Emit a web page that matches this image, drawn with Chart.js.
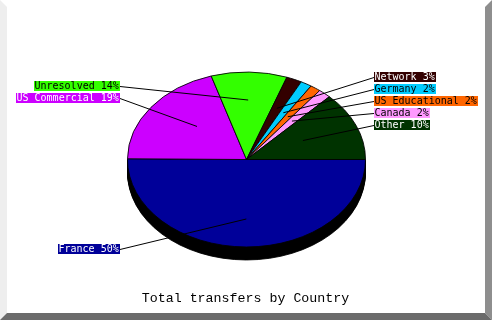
<!DOCTYPE html>
<html><head><meta charset="utf-8">
<script src="https://cdn.jsdelivr.net/npm/chart.js@4"></script>
<style>html,body{margin:0;padding:0;background:#fff;overflow:hidden}canvas{display:block}</style>
</head><body>
<canvas id="c" width="492" height="320"></canvas>
<script>
// ---- data ----
const categories = ['France', 'US Commercial', 'Unresolved', 'Network', 'Germany', 'US Educational', 'Canada', 'Other'];
const shares = [50, 18.5, 13.6, 2.5, 1.7, 1.5, 1.7, 10.3];
const titleText = 'Total transfers by Country';

// ---- styles / layout ----
const sliceColors = ['#000099', '#cc00ff', '#33ff00', '#330000', '#00ccff', '#ff6600', '#ff99ff', '#003300'];
const labelTextColors = ['#fff', '#fff', '#000', '#fff', '#000', '#000', '#000', '#fff'];
const labelSide = ['L', 'L', 'L', 'R', 'R', 'R', 'R', 'R'];
const labelY = [249, 98, 86, 77, 89, 101, 113, 125];
const TILT = 0.735, DEPTH = 13;

// screen-angle shares -> parametric arc sizes for the tilted (squashed) pie
function projectedSizes(vals) {
  const total = vals.reduce((a, b) => a + b, 0);
  let cum = 0; const th = [0];
  vals.forEach((v, i) => {
    cum += v;
    const phi = cum / total * 2 * Math.PI;
    let t = Math.atan2(Math.sin(phi), TILT * Math.cos(phi));
    if (t < 1e-9) t += 2 * Math.PI;
    if (i === vals.length - 1) t = 2 * Math.PI;
    th.push(t);
  });
  return vals.map((v, i) => th[i + 1] - th[i]);
}

const pie3d = {
  id: 'pie3d',
  beforeDraw(chart) {
    const ctx = chart.ctx;
    ctx.save();
    ctx.fillStyle = '#fff'; ctx.fillRect(0, 0, 492, 320);
    ctx.fillStyle = '#eeeeee';
    ctx.beginPath(); ctx.moveTo(0, 0); ctx.lineTo(7, 7); ctx.lineTo(7, 313); ctx.lineTo(0, 320); ctx.closePath(); ctx.fill();
    ctx.fillStyle = '#8e8e8e';
    ctx.beginPath(); ctx.moveTo(485, 7); ctx.lineTo(492, 0); ctx.lineTo(492, 320); ctx.lineTo(485, 313); ctx.closePath(); ctx.fill();
    ctx.fillStyle = '#6b6b6b';
    ctx.beginPath(); ctx.moveTo(0, 320); ctx.lineTo(7, 313); ctx.lineTo(485, 313); ctx.lineTo(492, 320); ctx.closePath(); ctx.fill();
    ctx.restore();
  },
  beforeDatasetsDraw(chart) {
    const ctx = chart.ctx;
    const a0 = chart.getDatasetMeta(0).data[0];
    const cx = a0.x, cy = a0.y;
    ctx.save();
    ctx.translate(cx, cy); ctx.scale(1, TILT); ctx.translate(-cx, -cy);
    const orig = a0.options;
    a0.options = Object.assign({}, orig, { backgroundColor: '#000', borderColor: '#000' });
    for (let d = DEPTH; d >= 1; d--) {
      ctx.save(); ctx.translate(0, d / TILT); a0.draw(ctx); ctx.restore();
    }
    a0.options = orig;
  },
  afterDatasetsDraw(chart) {
    const ctx = chart.ctx;
    ctx.restore();
    const a0 = chart.getDatasetMeta(0).data[0];
    const cx = a0.x, cy = a0.y, R = a0.outerRadius;
    const total = shares.reduce((a, b) => a + b, 0);
    ctx.save();
    ctx.font = "10px 'DejaVu Sans Mono'";
    ctx.textBaseline = 'middle';
    ctx.textAlign = 'left';
    ctx.lineWidth = 1;
    let cum = 0;
    shares.forEach((v, i) => {
      const mid = (cum + v / 2) / total * 2 * Math.PI;
      cum += v;
      const px = cx + 0.5 * R * Math.cos(mid), py = cy + 0.5 * R * Math.sin(mid);
      const text = categories[i] + ' ' + Math.round(v) + '%';
      const w = Math.ceil(ctx.measureText(text).width) + 1;
      const y = labelY[i];
      let bx, ex;
      if (labelSide[i] === 'L') { ex = Math.round(cx - R - 8); bx = ex - w; }
      else { bx = Math.round(cx + R + 8); ex = bx; }
      ctx.strokeStyle = '#000';
      ctx.beginPath(); ctx.moveTo(px, py); ctx.lineTo(ex, y + 0.5); ctx.stroke();
      ctx.fillStyle = sliceColors[i];
      ctx.fillRect(bx, y - 5, w, 10);
      ctx.fillStyle = labelTextColors[i];
      ctx.fillText(text, bx + 0.5, y + 0.5);
    });
    ctx.font = "13.3px 'Liberation Mono'";
    ctx.textAlign = 'center';
    ctx.fillStyle = '#000';
    ctx.fillText(titleText, 245.5, 298);
    ctx.restore();
  }
};

new Chart(document.getElementById('c'), {
  type: 'pie',
  data: {
    labels: categories,
    datasets: [{
      data: projectedSizes(shares),
      backgroundColor: sliceColors,
      borderColor: '#000',
      borderWidth: 1,
      clip: false
    }]
  },
  options: {
    responsive: false,
    animation: false,
    devicePixelRatio: 1,
    rotation: 90,
    events: [],
    layout: { padding: { left: 127, right: 126, top: 40, bottom: 41 } },
    plugins: { legend: { display: false }, tooltip: { enabled: false }, title: { display: false } }
  },
  plugins: [pie3d]
});
</script>
</body></html>
